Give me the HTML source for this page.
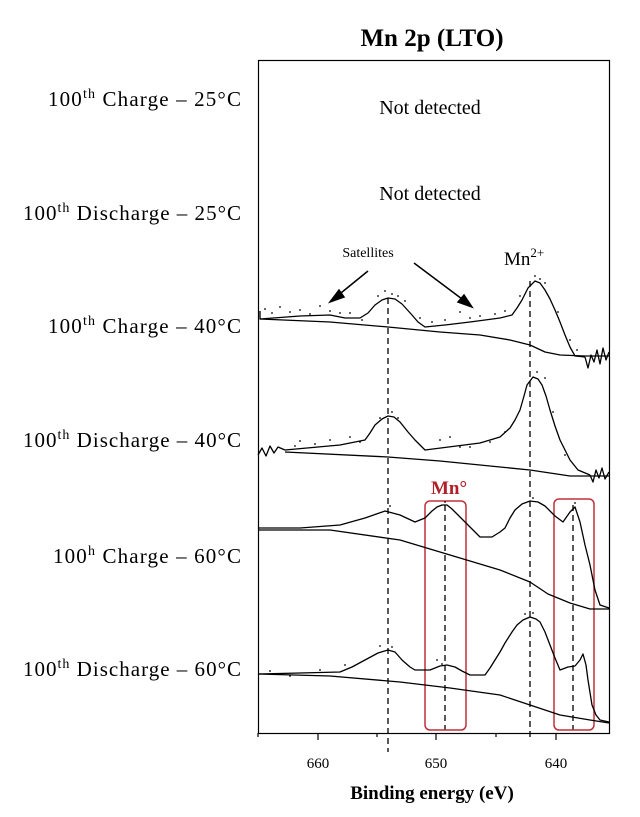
<!DOCTYPE html>
<html><head><meta charset="utf-8"><style>body{margin:0;background:#fff}</style></head><body>
<svg width="640" height="812" xmlns="http://www.w3.org/2000/svg" font-family="Liberation Serif, serif">
<rect width="640" height="812" fill="#fff"/>
<text x="432" y="46" font-size="25" font-weight="bold" text-anchor="middle">Mn 2p (LTO)</text>
<g font-size="21" text-anchor="end">
<text x="241" y="106" textLength="193" lengthAdjust="spacing">100<tspan font-size="14" dy="-8">th</tspan><tspan dy="8"> Charge – 25°C</tspan></text>
<text x="241" y="220" textLength="218" lengthAdjust="spacing">100<tspan font-size="14" dy="-8">th</tspan><tspan dy="8"> Discharge  – 25°C</tspan></text>
<text x="241" y="333" textLength="193" lengthAdjust="spacing">100<tspan font-size="14" dy="-8">th</tspan><tspan dy="8"> Charge – 40°C</tspan></text>
<text x="241" y="447" textLength="218" lengthAdjust="spacing">100<tspan font-size="14" dy="-8">th</tspan><tspan dy="8"> Discharge  – 40°C</tspan></text>
<text x="241" y="563" textLength="188" lengthAdjust="spacing">100<tspan font-size="14" dy="-8">h</tspan><tspan dy="8"> Charge – 60°C</tspan></text>
<text x="241" y="676" textLength="218" lengthAdjust="spacing">100<tspan font-size="14" dy="-8">th</tspan><tspan dy="8"> Discharge  – 60°C</tspan></text>
</g>
<rect x="258.5" y="60.5" width="351" height="673" fill="none" stroke="#000" stroke-width="1.2"/>
<g font-size="20" text-anchor="middle">
<text x="430" y="114">Not detected</text>
<text x="430" y="200">Not detected</text>
</g>
<text x="368" y="257" font-size="14" text-anchor="middle">Satellites</text>
<text x="504" y="265" font-size="19">Mn<tspan font-size="13" dy="-8">2+</tspan></text>
<text x="449" y="494" font-size="19" font-weight="bold" fill="#b02028" text-anchor="middle">Mn°</text>
<g stroke="#000" stroke-width="1.5" fill="#000">
<line x1="368" y1="271" x2="336" y2="297"/><polygon points="330,302 339,290 344,297"/>
<line x1="414" y1="263" x2="466" y2="302"/><polygon points="472,307 458,302 464,295"/>
</g>
<g stroke="#000" stroke-width="1.3" stroke-dasharray="6,4" fill="none">
<line x1="388" y1="298" x2="388" y2="752"/>
<line x1="530" y1="281" x2="530" y2="740"/>
<line x1="445" y1="505" x2="445" y2="730"/>
<line x1="573" y1="505" x2="573" y2="730"/>
</g>
<g stroke="#c0303a" stroke-width="1.5" fill="none">
<rect x="425" y="501" width="41" height="229" rx="5"/>
<rect x="554" y="499" width="40" height="231" rx="5"/>
</g>
<g stroke="#000" stroke-width="1.3" fill="none" stroke-linejoin="round">
<polyline points="260,311 260,319 300,316 330,315 345,318 360,318 368,313 375,305 382,300 388,298 395,299 402,304 412,315 418,322 425,327 445,325 470,322 500,318 512,315 517,308 522,300 528,288 535,281 540,283 545,290 550,299 555,310 560,322 565,335 570,347 575,356 585,357"/>
<polyline points="260,319 330,322 388,327 440,332 480,335 510,340 530,345 545,352 560,355 585,356 609,356"/>
<polyline points="585,357 588,368 591,355 594,362 597,350 600,364 603,348 606,360 609,352"/>
<polyline points="258,455 262,448 266,456 270,446 274,453 278,447 285,450 340,445 365,440 370,433 375,425 382,419 388,416 394,417 400,422 408,432 415,440 425,450 480,443 500,437 510,428 515,420 520,410 524,396 527,385 533,377 538,379 542,385 546,396 550,410 555,426 560,440 570,460 578,470 590,475"/>
<polyline points="285,452 388,457 440,461 480,465 530,470 570,476 609,476"/>
<polyline points="590,475 593,482 596,470 599,478 602,468 605,479 609,472"/>
<polyline points="258,528 300,528 340,525 365,518 385,511 400,515 415,522 425,518 432,511 437,507 442,505 447,505 452,509 458,515 465,522 470,527 480,537 492,537 500,532 505,528 510,518 515,510 522,504 530,501 538,502 545,506 555,516 563,522 570,512 575,507 580,522 585,545 590,565 595,590 600,605 609,608"/>
<polyline points="258,530 330,530 400,540 450,555 500,570 530,582 548,594 570,603 590,609 609,609"/>
<polyline points="258,674 300,673 340,672 352,667 365,660 378,653 388,650 395,652 402,660 410,667 415,670 430,670 440,666 447,665 455,667 462,671 470,675 485,675 490,668 495,660 500,652 505,643 512,632 517,625 523,620 530,617 536,619 540,622 545,632 550,645 555,658 560,670 568,667 575,666 580,660 583,654 586,665 588,680 592,705 596,715 600,720 609,722"/>
<polyline points="258,674 330,676 400,682 450,688 500,695 530,705 560,715 590,720 609,723"/>
</g>
<g fill="#000">
<circle cx="265" cy="309" r="0.9"/><circle cx="272" cy="313" r="0.9"/><circle cx="280" cy="307" r="0.9"/><circle cx="290" cy="312" r="0.9"/><circle cx="300" cy="310" r="0.9"/><circle cx="310" cy="314" r="0.9"/><circle cx="320" cy="306" r="0.9"/><circle cx="330" cy="311" r="0.9"/><circle cx="340" cy="313" r="0.9"/><circle cx="350" cy="313" r="0.9"/><circle cx="362" cy="320" r="0.9"/><circle cx="378" cy="296" r="0.9"/><circle cx="385" cy="291" r="0.9"/><circle cx="392" cy="294" r="0.9"/><circle cx="398" cy="296" r="0.9"/><circle cx="405" cy="301" r="0.9"/><circle cx="420" cy="318" r="0.9"/><circle cx="432" cy="322" r="0.9"/><circle cx="445" cy="320" r="0.9"/><circle cx="460" cy="312" r="0.9"/><circle cx="470" cy="318" r="0.9"/><circle cx="480" cy="316" r="0.9"/><circle cx="495" cy="314" r="0.9"/><circle cx="505" cy="311" r="0.9"/><circle cx="520" cy="296" r="0.9"/><circle cx="535" cy="276" r="0.9"/><circle cx="540" cy="279" r="0.9"/><circle cx="545" cy="283" r="0.9"/><circle cx="558" cy="312" r="0.9"/><circle cx="570" cy="340" r="0.9"/><circle cx="577" cy="350" r="0.9"/>
<circle cx="295" cy="446" r="0.9"/><circle cx="300" cy="441" r="0.9"/><circle cx="315" cy="444" r="0.9"/><circle cx="330" cy="440" r="0.9"/><circle cx="350" cy="437" r="0.9"/><circle cx="360" cy="442" r="0.9"/><circle cx="380" cy="418" r="0.9"/><circle cx="392" cy="412" r="0.9"/><circle cx="398" cy="418" r="0.9"/><circle cx="440" cy="440" r="0.9"/><circle cx="450" cy="437" r="0.9"/><circle cx="460" cy="447" r="0.9"/><circle cx="470" cy="447" r="0.9"/><circle cx="490" cy="442" r="0.9"/><circle cx="505" cy="432" r="0.9"/><circle cx="537" cy="372" r="0.9"/><circle cx="545" cy="378" r="0.9"/><circle cx="553" cy="412" r="0.9"/><circle cx="565" cy="455" r="0.9"/>
<circle cx="390" cy="506" r="0.9"/><circle cx="445" cy="502" r="0.9"/><circle cx="533" cy="498" r="0.9"/><circle cx="575" cy="503" r="0.9"/>
<circle cx="270" cy="671" r="0.9"/><circle cx="290" cy="676" r="0.9"/><circle cx="320" cy="670" r="0.9"/><circle cx="345" cy="665" r="0.9"/><circle cx="380" cy="646" r="0.9"/><circle cx="392" cy="647" r="0.9"/><circle cx="437" cy="660" r="0.9"/><circle cx="442" cy="664" r="0.9"/><circle cx="525" cy="614" r="0.9"/><circle cx="533" cy="613" r="0.9"/>
</g>
<g stroke="#000" stroke-width="1.2">
<line x1="318" y1="733" x2="318" y2="740"/><line x1="436" y1="733" x2="436" y2="740"/><line x1="556" y1="733" x2="556" y2="740"/>
<line x1="377" y1="733" x2="377" y2="737"/><line x1="496" y1="733" x2="496" y2="737"/><line x1="258" y1="733" x2="258" y2="737"/>
</g>
<g font-size="15" text-anchor="middle">
<text x="318" y="768">660</text><text x="436" y="768">650</text><text x="556" y="768">640</text>
</g>
<text x="432" y="799" font-size="19" font-weight="bold" text-anchor="middle">Binding energy (eV)</text>
</svg>
</body></html>
